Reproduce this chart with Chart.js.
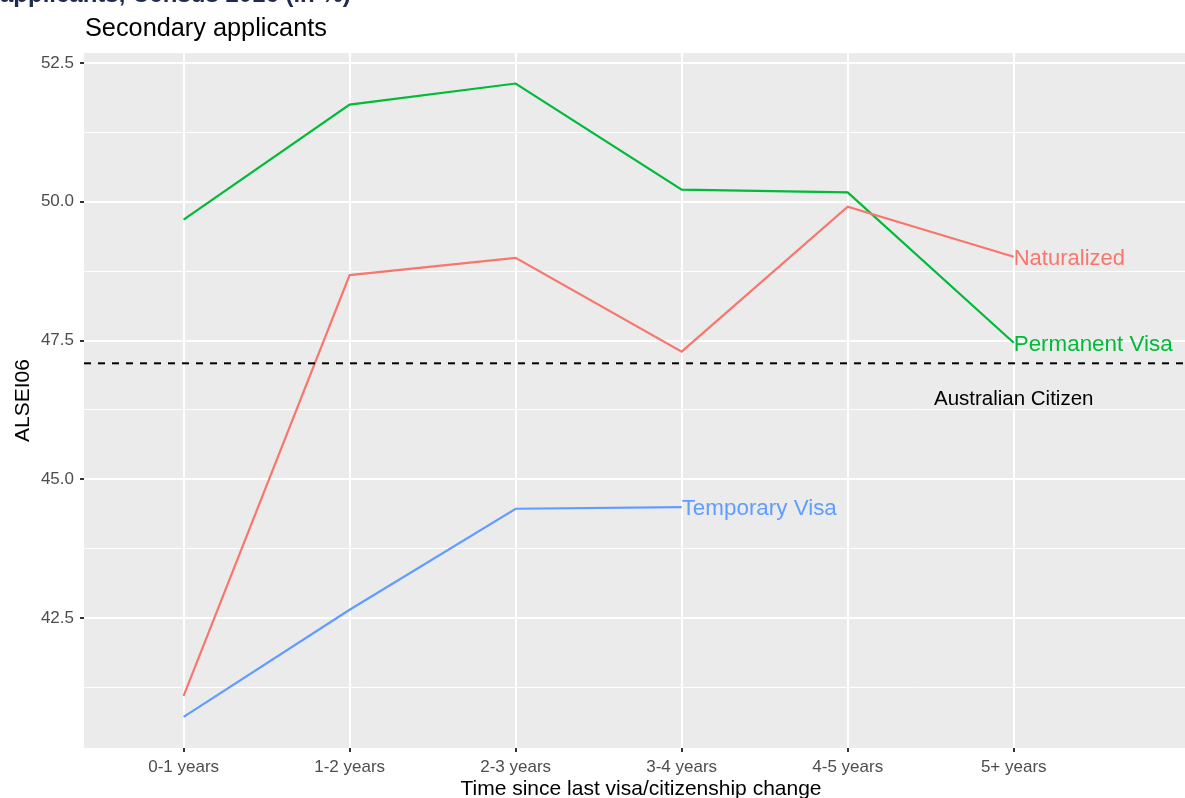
<!DOCTYPE html>
<html>
<head>
<meta charset="utf-8">
<script src="https://cdn.jsdelivr.net/npm/chart.js@4.4.1/dist/chart.umd.min.js"></script>
<style>
  html, body { margin: 0; padding: 0; background: #fff; overflow: hidden; }
  #wrap { width: 1200px; height: 798px; }
</style>
</head>
<body>
<div id="wrap"><canvas id="canvas" width="1200" height="798"></canvas></div>
<script>
var categories = ['0-1 years', '1-2 years', '2-3 years', '3-4 years', '4-5 years', '5+ years'];
var naturalized = [41.10, 48.68, 48.99, 47.30, 49.91, 49.01];
var permanentVisa = [49.68, 51.75, 52.13, 50.22, 50.17, 47.46];
var temporaryVisa = [40.72, 42.65, 44.47, 44.50];
var australianCitizen = 47.09;
var citizenLabelY = 46.49;
var yTicks = [41.25, 42.5, 43.75, 45, 46.25, 47.5, 48.75, 50, 51.25, 52.5];
var xMin = -0.6, xMax = 6.11;
var yMin = 40.16, yMax = 52.68;

var FONT = '"Liberation Sans", Arial, sans-serif';

function toPoints(arr) {
    return arr.map(function(v, i) { return {x: i, y: v}; });
}
function isMajor(v) {
    return Math.abs(v / 2.5 - Math.round(v / 2.5)) < 1e-6;
}

var panelBg = {
    id: 'panelBg',
    beforeDraw: function(chart) {
        var a = chart.chartArea, ctx = chart.ctx;
        ctx.save();
        ctx.fillStyle = '#EBEBEB';
        ctx.fillRect(a.left, a.top, a.right - a.left, a.bottom - a.top);
        ctx.restore();
    }
};

var textLayer = {
    id: 'textLayer',
    afterDraw: function(chart) {
        var ctx = chart.ctx, a = chart.chartArea;
        var xs = chart.scales.x, ys = chart.scales.y;
        ctx.save();
        // headings (the first one is cut off at the top, as in the source)
        ctx.textBaseline = 'alphabetic';
        ctx.textAlign = 'left';
        ctx.fillStyle = '#1E2A4F';
        ctx.font = 'bold 24px ' + FONT;
        ctx.fillText('applicants, Census 2016 (in %)', 0, 2);
        ctx.fillStyle = '#000';
        ctx.font = '25.3px ' + FONT;
        ctx.fillText('Secondary applicants', 85, 36);

        // axis titles
        ctx.font = '21px ' + FONT;
        ctx.textAlign = 'center';
        ctx.textBaseline = 'middle';
        ctx.fillText('Time since last visa/citizenship change', (a.left + a.right) / 2, 789);
        ctx.save();
        ctx.translate(23, (a.top + a.bottom) / 2);
        ctx.rotate(-Math.PI / 2);
        ctx.fillText('ALSEI06', 0, 0);
        ctx.restore();

        // line labels
        var dy = 2;
        ctx.textAlign = 'left';
        ctx.font = '22px ' + FONT;
        ctx.fillStyle = '#F8766D';
        ctx.fillText('Naturalized', xs.getPixelForValue(naturalized.length - 1), ys.getPixelForValue(naturalized[naturalized.length - 1]) + dy);
        ctx.fillStyle = '#00BA38';
        ctx.font = '22.4px ' + FONT;
        ctx.fillText('Permanent Visa', xs.getPixelForValue(permanentVisa.length - 1), ys.getPixelForValue(permanentVisa[permanentVisa.length - 1]) + dy);
        ctx.fillStyle = '#619CFF';
        ctx.fillText('Temporary Visa', xs.getPixelForValue(temporaryVisa.length - 1), ys.getPixelForValue(temporaryVisa[temporaryVisa.length - 1]) + dy);
        ctx.textAlign = 'center';
        ctx.font = '20.5px ' + FONT;
        ctx.fillStyle = '#000';
        ctx.fillText('Australian Citizen', xs.getPixelForValue(categories.length - 1), ys.getPixelForValue(citizenLabelY) + 3);
        ctx.restore();
    }
};

var config = {
    type: 'line',
    data: {
        datasets: [{
            label: 'Australian Citizen',
            data: [{x: xMin, y: australianCitizen}, {x: xMax, y: australianCitizen}],
            borderColor: '#000',
            borderWidth: 2,
            borderDash: [7, 7],
            pointRadius: 0
        }, {
            label: 'Naturalized',
            data: toPoints(naturalized),
            borderColor: '#F8766D',
            borderWidth: 2.2,
            pointRadius: 0
        }, {
            label: 'Permanent Visa',
            data: toPoints(permanentVisa),
            borderColor: '#00BA38',
            borderWidth: 2.2,
            pointRadius: 0
        }, {
            label: 'Temporary Visa',
            data: toPoints(temporaryVisa),
            borderColor: '#619CFF',
            borderWidth: 2.2,
            pointRadius: 0
        }]
    },
    options: {
        responsive: false,
        animation: false,
        devicePixelRatio: 1,
        layout: {
            padding: { top: 53, right: 2, left: 0, bottom: 0 }
        },
        plugins: {
            legend: { display: false },
            title: { display: false },
            tooltip: { enabled: false }
        },
        scales: {
            x: {
                type: 'linear',
                min: xMin,
                max: xMax,
                afterBuildTicks: function(scale) {
                    scale.ticks = categories.map(function(c, i) { return {value: i}; });
                },
                afterFit: function(scale) { scale.height = 50; },
                ticks: {
                    autoSkip: false,
                    maxRotation: 0,
                    padding: 5,
                    color: '#4D4D4D',
                    font: { family: FONT, size: 17 },
                    callback: function(v) { return categories[v]; }
                },
                grid: {
                    color: '#FFFFFF',
                    lineWidth: 2,
                    tickLength: 4,
                    tickColor: '#333333',
                    tickWidth: 2
                },
                border: { display: false }
            },
            y: {
                min: yMin,
                max: yMax,
                afterBuildTicks: function(scale) {
                    scale.ticks = yTicks.map(function(v) { return {value: v}; });
                },
                afterFit: function(scale) { scale.width = 84; },
                ticks: {
                    autoSkip: false,
                    padding: 6,
                    color: '#4D4D4D',
                    font: { family: FONT, size: 17 },
                    callback: function(v) { return isMajor(v) ? v.toFixed(1) : ''; }
                },
                grid: {
                    color: '#FFFFFF',
                    lineWidth: function(ctx) { return ctx.tick && isMajor(ctx.tick.value) ? 2 : 1; },
                    tickLength: 4,
                    tickColor: function(ctx) { return ctx.tick && isMajor(ctx.tick.value) ? '#333333' : 'rgba(0,0,0,0)'; },
                    tickWidth: 2
                },
                border: { display: false }
            }
        }
    },
    plugins: [panelBg, textLayer]
};

function loadLineChart() {
    var ctx = document.getElementById('canvas').getContext('2d');
    window.myLine = new Chart(ctx, config);
}
loadLineChart();
</script>
</body>
</html>
